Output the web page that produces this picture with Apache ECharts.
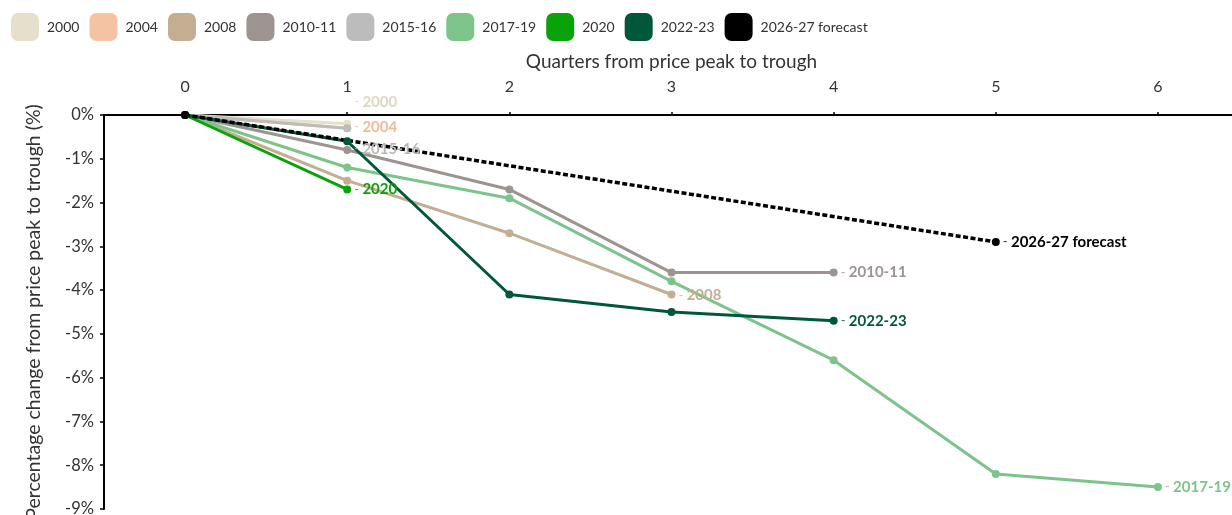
<!DOCTYPE html>
<html>
<head>
<meta charset="utf-8">
<script src="https://cdn.jsdelivr.net/npm/echarts@6/dist/echarts.min.js"></script>
<style>
  html, body { margin: 0; padding: 0; background: #fff; }
  #chart { width: 1232px; height: 515px; }
</style>
</head>
<body>
<div id="chart"></div>
<script>
// Quarters elapsed since the price peak
const quarters = ['0', '1', '2', '3', '4', '5', '6'];

// Cumulative % change from peak, one value per quarter
const s2000 = [0, -0.2];
const s2004 = [0, -0.3];
const s2008 = [0, -1.5, -2.7, -4.1];
const s2010 = [0, -0.8, -1.7, -3.6, -3.6];
const s2015 = [0, -0.3];
const s2017 = [0, -1.2, -1.9, -3.8, -5.6, -8.2, -8.5];
const s2020 = [0, -1.7];
const s2022 = [0, -0.6, -4.1, -4.5, -4.7];
const sForecast = [0, null, null, null, null, -2.9];

const yTicks = { min: -9, max: 0, step: 1 };

const FONT = 'Lato, "Open Sans", sans-serif';

const seriesDefs = [
  { name: '2000', data: s2000, color: '#e6dfcc', labelColor: '#e0d7c2', labelDy: -22 },
  { name: '2004', data: s2004, color: '#f4c3a3', labelColor: '#f2b995', labelDy: -1 },
  { name: '2008', data: s2008, color: '#c4ae92', labelColor: '#c4ae92', labelDy: 1 },
  { name: '2010-11', data: s2010, color: '#9d9391', labelColor: '#9d9391', labelDy: 0 },
  { name: '2015-16', data: s2015, color: '#bcbcbc', labelColor: '#b8b8b8', labelDy: 21 },
  { name: '2017-19', data: s2017, color: '#7dc48b', labelColor: '#7dc48b', labelDy: 0 },
  { name: '2020', data: s2020, color: '#0aa20a', labelColor: '#0aa20a', labelDy: 0 },
  { name: '2022-23', data: s2022, color: '#00573a', labelColor: '#00573a', labelDy: 0 },
  { name: '2026-27 forecast', data: sForecast, color: '#000000', labelColor: '#000000', labelDy: 0, forecast: true }
];

function buildSeries(def) {
  let last = -1;
  def.data.forEach((v, i) => { if (v !== null) last = i; });
  const data = def.data.map((v, i) => {
    if (i !== last) return v;
    return {
      value: v,
      label: {
        show: true,
        position: 'right',
        distance: 3,
        offset: [0, def.labelDy],
        formatter: '{d|-} {n|' + def.name + '}',
        rich: {
          d: { color: def.labelColor, fontSize: 13, fontFamily: FONT, fontWeight: 'normal', opacity: 0.8 },
          n: { color: def.labelColor, fontSize: 15, fontFamily: FONT, fontWeight: 'bold' }
        }
      }
    };
  });
  return {
    name: def.name,
    type: 'line',
    data: data,
    connectNulls: true,
    symbol: 'circle',
    symbolSize: 8,
    showAllSymbol: true,
    color: def.color,
    lineStyle: {
      color: def.color,
      width: def.forecast ? 3.5 : 3,
      type: def.forecast ? [5, 2.5] : 'solid'
    },
    itemStyle: { color: def.color },
    emphasis: { disabled: true },
    animation: false
  };
}

const chart = echarts.init(document.getElementById('chart'), null, { renderer: 'canvas' });

chart.setOption({
  backgroundColor: '#ffffff',
  animation: false,
  legend: {
    left: 6,
    top: 8,
    itemWidth: 28,
    itemHeight: 28,
    itemGap: 10,
    icon: 'roundRect',
    textStyle: { fontFamily: FONT, fontSize: 14, color: '#333', padding: [0, 0, 0, 3] },
    data: seriesDefs.map(d => ({ name: d.name, itemStyle: { color: d.color } })),
    selectedMode: false
  },
  grid: {
    left: 104,
    right: -7,
    top: 115,
    bottom: 6,
    outerBoundsMode: 'none',
    containLabel: false
  },
  xAxis: {
    type: 'category',
    position: 'top',
    data: quarters,
    boundaryGap: true,
    name: 'Quarters from price peak to trough',
    nameLocation: 'middle',
    nameGap: 44,
    nameTextStyle: { fontFamily: FONT, fontSize: 19, color: '#333' },
    axisLine: { lineStyle: { color: '#000', width: 2 } },
    axisTick: { show: true, alignWithLabel: true, length: 3, lineStyle: { color: '#000', width: 1.5 } },
    axisLabel: { fontFamily: FONT, fontSize: 16, color: '#333', margin: 20 },
    splitLine: { show: false }
  },
  yAxis: {
    type: 'value',
    min: yTicks.min,
    max: yTicks.max,
    interval: yTicks.step,
    name: 'Percentage change from price peak to trough (%)',
    nameLocation: 'middle',
    nameGap: 60,
    nameRotate: 90,
    nameTextStyle: { fontFamily: FONT, fontSize: 19.5, color: '#333' },
    axisLine: { show: true, lineStyle: { color: '#000', width: 2 } },
    axisTick: { show: true, length: 4, lineStyle: { color: '#000', width: 1.5 } },
    axisLabel: { fontFamily: FONT, fontSize: 16.5, color: '#333', margin: 10, formatter: '{value}%' },
    splitLine: { show: false }
  },
  series: seriesDefs.map(buildSeries)
});
</script>
</body>
</html>
